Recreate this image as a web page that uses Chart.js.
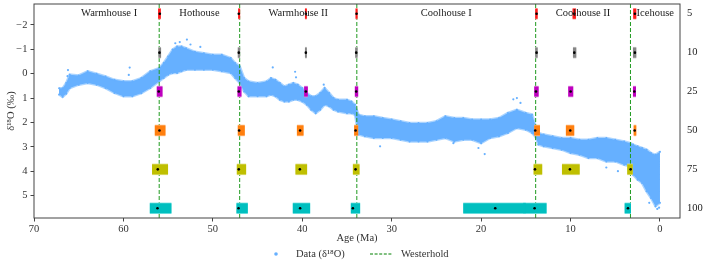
<!DOCTYPE html>
<html>
<head>
<meta charset="utf-8">
<script src="https://cdn.jsdelivr.net/npm/chart.js@4.4.1/dist/chart.umd.min.js"></script>
<style>
  html, body { margin: 0; padding: 0; background: #fff; }
</style>
</head>
<body>
<canvas id="myChart-d18o" width="706" height="270"></canvas>
<script>
// axis ticks
const ageTicks = [70, 60, 50, 40, 30, 20, 10, 0];
const d18oTicks = [-2, -1, 0, 1, 2, 3, 4, 5];
const windowLabels = ['5', '10', '25', '50', '75', '100'];

// climate states and Westerhold boundaries (Ma)
const climateStates = ['Warmhouse I', 'Hothouse', 'Warmhouse II', 'Coolhouse I', 'Coolhouse II', 'Icehouse'];
const westerhold = [56.0, 47.0, 33.9, 13.9, 3.3];

// d18O cloud: upper and lower edge per age
const cloudAge = [67.2, 66.8, 66.4, 66.0, 65.0, 64.0, 63.0, 62.0, 61.0, 60.0, 59.0, 58.0, 57.0, 56.0, 55.5, 55.0, 54.5, 54.0, 53.5, 53.0,
  52.0, 51.0, 50.0, 49.0, 48.0, 47.5, 47.0, 46.5, 46.0, 45.0, 44.0, 43.5, 43.0, 42.5, 42.0, 41.5, 41.0, 40.5, 40.0, 39.5,
  39.0, 38.5, 38.0, 37.5, 37.0, 36.5, 36.0, 35.0, 34.5, 34.1, 33.9, 33.7, 33.0, 32.0, 31.0, 30.0, 29.0, 28.0, 27.0, 26.0,
  25.0, 24.0, 23.0, 22.0, 21.0, 20.0, 19.0, 18.0, 17.0, 16.0, 15.0, 14.3, 13.9, 13.6, 13.0, 12.0, 11.0, 10.0, 9.0, 8.0,
  7.0, 6.0, 5.0, 4.0, 3.3, 3.0, 2.5, 2.0, 1.5, 1.0, 0.5, 0.0];
const cloudTop = [0.6, 0.6, 0.38, 0.04, 0.07, -0.1, 0.0, 0.11, 0.25, 0.31, 0.31, 0.18, -0.1, -0.23, -0.44, -0.71, -0.99, -1.12, -1.12, -1.05,
  -0.9, -0.84, -0.78, -0.78, -0.64, -0.44, -0.3, 0.18, 0.32, 0.38, 0.32, 0.18, 0.25, 0.38, 0.52, 0.45, 0.38, 0.45, 0.59, 0.79,
  0.93, 0.93, 0.79, 0.59, 0.79, 1.0, 1.07, 1.07, 1.14, 1.27, 1.5, 1.68, 1.75, 1.75, 1.82, 1.88, 1.95, 2.02, 2.02, 2.02,
  1.95, 1.75, 1.82, 1.82, 1.88, 1.88, 1.88, 1.82, 1.61, 1.48, 1.61, 1.68, 2.16, 2.43, 2.5, 2.57, 2.64, 2.64, 2.71, 2.71,
  2.64, 2.64, 2.71, 2.78, 2.85, 2.91, 2.98, 3.05, 3.12, 3.26, 3.33, 3.2];
const cloudBottom = [0.85, 0.95, 0.82, 0.59, 0.45, 0.38, 0.45, 0.59, 0.79, 0.93, 0.93, 0.8, 0.59, 0.31, 0.18, 0.04, -0.03, -0.03, -0.1, -0.16,
  -0.16, -0.16, -0.16, -0.1, -0.03, 0.18, 0.38, 0.73, 0.93, 0.93, 0.93, 0.86, 0.93, 1.07, 1.14, 1.14, 1.07, 1.07, 1.14, 1.27,
  1.48, 1.62, 1.48, 1.27, 1.34, 1.48, 1.55, 1.62, 1.62, 1.69, 2.1, 2.5, 2.57, 2.64, 2.64, 2.64, 2.71, 2.78, 2.78, 2.78,
  2.71, 2.64, 2.78, 2.71, 2.71, 2.85, 2.64, 2.57, 2.43, 2.23, 2.3, 2.43, 2.6, 2.91, 2.98, 3.05, 3.12, 3.26, 3.33, 3.46,
  3.46, 3.6, 3.6, 3.74, 3.8, 4.15, 4.35, 4.49, 4.83, 5.1, 5.44, 5.3];
// scattered points outside the dense band
const outlierAge = [66.2, 66.25, 59.3, 59.4, 54.2, 53.7, 52.9, 52.5, 51.4, 43.3, 40.8, 40.7, 37.6, 31.3, 23.1, 20.3, 19.6, 16.4, 16.0, 15.6, 6.0, 4.7, 1.2, 0.3, 0.1];
const outlierD18o = [-0.15, 0.1, -0.25, 0.05, -1.25, -1.3, -1.4, -1.2, -1.1, -0.26, -0.08, 0.15, 0.45, 2.98, 2.85, 3.05, 3.3, 1.05, 1.0, 1.2, 3.85, 4.0, 5.3, 5.55, 5.5];

// detected transitions per window: center age and age range
const w5Center = [55.93, 47.1, 39.6, 33.93, 13.8, 9.58, 2.8];
const w5From = [56.12, 47.17, 39.7, 34.04, 13.95, 9.77, 2.99];
const w5To = [55.82, 46.95, 39.49, 33.82, 13.68, 9.40, 2.65];
const w10Center = [55.97, 47.1, 39.6, 33.97, 13.8, 9.58, 2.8];
const w10From = [56.08, 47.21, 39.7, 34.08, 13.95, 9.73, 3.02];
const w10To = [55.79, 46.95, 39.49, 33.82, 13.68, 9.36, 2.65];
const w25Center = [56.05, 47.1, 39.6, 33.97, 13.87, 9.99, 2.87];
const w25From = [56.27, 47.24, 39.79, 34.12, 14.06, 10.26, 3.02];
const w25To = [55.63, 46.80, 39.38, 33.75, 13.57, 9.70, 2.68];
const w50Center = [55.97, 47.06, 40.24, 34.04, 13.95, 10.03, 2.83];
const w50From = [56.49, 47.21, 40.6, 34.2, 14.06, 10.52, 2.94];
const w50To = [55.30, 46.43, 39.86, 33.75, 13.42, 9.59, 2.65];
const w75Center = [56.16, 47.1, 40.27, 34.04, 13.98, 10.07, 3.28];
const w75From = [56.80, 47.32, 40.76, 34.34, 14.13, 10.96, 3.66];
const w75To = [55.01, 46.28, 39.46, 33.6, 13.17, 8.98, 3.05];
const w100Center = [56.19, 47.13, 40.24, 34.34, 18.42, 14.02, 3.58];
const w100From = [57.05, 47.36, 41.06, 34.57, 22.0, 15.3, 3.95];
const w100To = [54.63, 46.09, 39.12, 33.53, 15.0, 12.68, 3.24];

const windowCenters = [w5Center, w10Center, w25Center, w50Center, w75Center, w100Center];
const windowFrom = [w5From, w10From, w25From, w50From, w75From, w100From];
const windowTo = [w5To, w10To, w25To, w50To, w75To, w100To];
const windowColors = ['#ff1a1a', '#858585', '#bf00bf', '#ff7f0e', '#bfbf00', '#00bfbf'];
const windowEdges = ['#ff9a9a', '#c4c4c4', '#e09ae0', '#ffc08a', '#e0e08a', '#8ae6e6'];

const blue = '#66b0ff';
const blueEdge = 'rgba(102, 176, 255, 0.55)';
const green = '#1f9a1f';
const serif = "'Liberation Serif', 'Times New Roman', serif";
const txt = '#333';
const ageMin = -2.24, ageMax = 70;
const yMin = -2.862, yMax = 5.924;

// scales pad for half a tick label by default, the frame must sit at fixed pixels
const noPad = s => { s.paddingTop = 0; s.paddingBottom = 0; s.paddingLeft = 0; s.paddingRight = 0; };

const datasets = [];
datasets.push({
    label: 'Data (δ¹⁸O)',
    data: cloudAge.map((a, i) => ({x: a, y: cloudTop[i]})),
    showLine: true, fill: '+1',
    backgroundColor: blue, borderColor: blueEdge, borderWidth: 2.5,
    pointRadius: 1, pointBorderWidth: 0, pointBackgroundColor: blue,
    order: 4
});
datasets.push({
    label: 'cloud-bottom',
    data: cloudAge.map((a, i) => ({x: a, y: cloudBottom[i]})),
    showLine: true, fill: false,
    borderColor: blueEdge, borderWidth: 2.5,
    pointRadius: 1, pointBorderWidth: 0, pointBackgroundColor: blue,
    order: 4
});
datasets.push({
    label: 'outliers',
    data: outlierAge.map((a, i) => ({x: a, y: outlierD18o[i]})),
    pointRadius: 1.1, pointBorderWidth: 0, pointBackgroundColor: blue,
    order: 4
});

westerhold.forEach(b => {
    datasets.push({
        label: 'Westerhold',
        data: [{x: b, y: yMin}, {x: b, y: yMax}],
        showLine: true, borderColor: green, borderWidth: 1, borderDash: [4, 2],
        pointRadius: 0, order: 3
    });
});

windowCenters.forEach((centers, r) => {
    centers.forEach((c, k) => {
        const seg = [{x: windowFrom[r][k], y: r}, {x: windowTo[r][k], y: r}];
        // pale rim under each box
        datasets.push({
            label: 'window-rim-' + windowLabels[r],
            data: seg, yAxisID: 'y2', showLine: true,
            borderColor: windowEdges[r], borderWidth: 11.5, borderCapStyle: 'butt',
            pointRadius: 0, order: 2.5
        });
        datasets.push({
            label: 'window-' + windowLabels[r],
            data: seg, yAxisID: 'y2', showLine: true,
            borderColor: windowColors[r], borderWidth: 10, borderCapStyle: 'butt',
            pointRadius: 0, order: 2
        });
    });
});

datasets.push({
    label: 'centers',
    data: windowCenters.flatMap((centers, r) => centers.map(c => ({x: c, y: r}))),
    yAxisID: 'y2',
    pointRadius: 1.3, pointBorderWidth: 0, pointBackgroundColor: '#000',
    order: 1
});

// frame, state names and legend
const decorPlugin = {
    id: 'decor',
    afterDatasetsDraw(chart) {
        const {ctx, chartArea, scales} = chart;
        ctx.save();
        ctx.strokeStyle = '#444';
        ctx.lineWidth = 1;
        ctx.strokeRect(chartArea.left, chartArea.top, chartArea.right - chartArea.left, chartArea.bottom - chartArea.top);

        const edges = [cloudAge[0], ...westerhold, scales.x.min];
        ctx.font = '10.5px ' + serif;
        ctx.fillStyle = '#222';
        ctx.textAlign = 'center';
        ctx.textBaseline = 'middle';
        climateStates.forEach((s, i) => {
            const mid = (edges[i] + edges[i + 1]) / 2;
            ctx.fillText(s, scales.x.getPixelForValue(mid), chartArea.top + 9);
        });

        // legend
        const y = 254;
        const x0 = (chartArea.left + chartArea.right) / 2 - 81;
        ctx.fillStyle = blue;
        ctx.beginPath();
        ctx.arc(x0, y, 1.8, 0, 2 * Math.PI);
        ctx.fill();
        ctx.fillStyle = txt;
        ctx.textAlign = 'left';
        ctx.font = '10.5px ' + serif;
        ctx.fillText(chart.data.datasets[0].label, x0 + 20, y);
        ctx.strokeStyle = '#008000';
        ctx.setLineDash([3, 1.6]);
        ctx.beginPath();
        ctx.moveTo(x0 + 94, y);
        ctx.lineTo(x0 + 117, y);
        ctx.stroke();
        ctx.setLineDash([]);
        ctx.fillText('Westerhold', x0 + 125, y);
        ctx.restore();
    }
};

const ctx1 = document.getElementById('myChart-d18o').getContext('2d');
const chart1 = new Chart(ctx1, {
    type: 'scatter',
    data: { datasets: datasets },
    plugins: [decorPlugin],
    options: {
        responsive: false,
        animation: false,
        devicePixelRatio: 1,
        layout: { padding: { top: 4, bottom: 22, left: 0, right: 0 } },
        plugins: {
            legend: { display: false },
            tooltip: { enabled: false }
        },
        scales: {
            x: {
                type: 'linear', reverse: true, min: ageMin, max: ageMax,
                afterBuildTicks: s => { s.ticks = ageTicks.map(v => ({value: v})); },
                afterFit: s => { s.height = 30; noPad(s); },
                border: { display: false },
                grid: { drawOnChartArea: false, drawTicks: true, tickLength: 3.5, color: '#444' },
                ticks: { font: { family: serif, size: 10.5 }, color: txt, padding: 1, maxRotation: 0 },
                title: { display: true, text: 'Age (Ma)', font: { family: serif, size: 10.5 }, color: txt, padding: { top: 0, bottom: 3 } }
            },
            y: {
                type: 'linear', position: 'left', reverse: true, min: yMin, max: yMax,
                afterBuildTicks: s => { s.ticks = d18oTicks.map(v => ({value: v})); },
                afterFit: s => { s.width = 34; noPad(s); },
                border: { display: false },
                grid: { drawOnChartArea: false, drawTicks: true, tickLength: 3.5, color: '#444' },
                ticks: {
                    font: { family: serif, size: 10.5 }, color: txt, padding: 3,
                    callback: v => v < 0 ? '\u2212' + Math.abs(v) : String(v)
                },
                title: { display: true, text: 'δ¹⁸O (‰)', font: { family: serif, size: 10.5 }, color: txt, padding: { top: 5, bottom: 0 } }
            },
            y2: {
                type: 'linear', position: 'right', reverse: true, min: -0.25, max: 5.25,
                afterBuildTicks: s => { s.ticks = windowLabels.map((l, i) => ({value: i})); },
                afterFit: s => { s.width = 26; noPad(s); },
                border: { display: false },
                grid: { display: false, drawTicks: false },
                ticks: {
                    font: { family: serif, size: 10.5 }, color: '#222', padding: 7,
                    callback: v => windowLabels[v]
                }
            }
        }
    }
});
</script>
</body>
</html>
